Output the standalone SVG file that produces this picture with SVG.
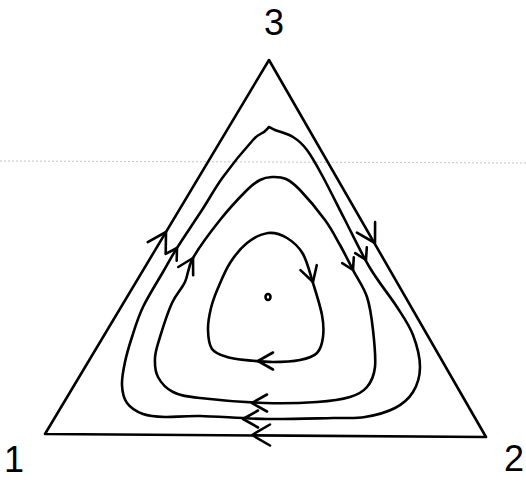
<svg xmlns="http://www.w3.org/2000/svg" xmlns:xlink="http://www.w3.org/1999/xlink" width="526" height="482" viewBox="0 0 526 482">
  <style>
    .ln { fill: none; stroke: #000; stroke-width: 2.6; stroke-linecap: round; stroke-linejoin: round; }
    .lbl { font-family: "Liberation Sans", "DejaVu Sans", sans-serif; font-size: 36px; fill: #000; text-anchor: middle; }
    .scan { stroke: #c4c4c4; stroke-width: 1; stroke-dasharray: 2 2; fill: none; }
  </style>
  <defs>
    <path id="ahBig" class="ln" d="M-18,-10.5 L0,0 L-18,10.5"/>
    <path id="ahMid" class="ln" d="M-15,-8.5 L0,0 L-15,8.5"/>
    <path id="ahSm" class="ln" d="M-11,-6.5 L0,0 L-11,6.5"/>
  </defs>
  <rect width="526" height="482" fill="#fff"/>
  <line class="scan" x1="0" y1="161" x2="526" y2="163"/>

  <g id="simplex">
    <path class="ln" d="M269,60 L486,437 L45,434 Z"/>
  </g>

  <g id="vertex-3"><text class="lbl" x="274" y="35">3</text></g>
  <g id="vertex-1"><text class="lbl" x="14" y="472">1</text></g>
  <g id="vertex-2"><text class="lbl" x="514" y="471">2</text></g>

  <g id="center"><ellipse class="ln" cx="268" cy="297" rx="2.5" ry="3" stroke-width="2.2"/></g>

  <g id="connectors">
    <path id="orbit-outer" class="ln" d="M269,127 C270,127.5 271,128.3 275,130 C279,131.7 287.7,133.7 293,137 C298.3,140.3 302,143.3 307,150 C312,156.7 316.7,165.3 323,177 C329.3,188.7 337.2,204.8 345,220 C352.8,235.2 361.3,253.5 370,268 C378.7,282.5 389.8,295.8 397,307 C404.2,318.2 409.2,325 413,335 C416.8,345 420,357.5 420,367 C420,376.5 417.2,385.2 413,392 C408.8,398.8 403,403.8 395,408 C387,412.2 375.3,415.3 365,417 C354.7,418.7 349.3,417.7 333,418 C316.7,418.3 289.2,419.3 267,419 C244.8,418.7 217,416.3 200,416 C183,415.7 174.5,417.3 165,417 C155.5,416.7 149.3,416.3 143,414 C136.7,411.7 130.5,407.8 127,403 C123.5,398.2 122.3,391.8 122,385 C121.7,378.2 123.3,370 125,362 C126.7,354 129,346.2 132,337 C135,327.8 137.8,317.8 143,307 C148.2,296.2 157.3,281.8 163,272 C168.7,262.2 170.5,258.3 177,248 C183.5,237.7 194.3,221.8 202,210 C209.7,198.2 214.5,188.7 223,177 C231.5,165.3 246.2,147.5 253,140 C259.8,132.5 261.3,134.2 264,132 C266.7,129.8 268.2,127.8 269,127 Z"/>
    <path id="orbit-middle" class="ln" d="M272,177 C276.3,176.8 281.3,176.8 286,179 C290.7,181.2 293.5,183.2 300,190 C306.5,196.8 318.3,210.8 325,220 C331.7,229.2 335.3,236.7 340,245 C344.7,253.3 348.5,261.3 353,270 C357.5,278.7 363.7,287 367,297 C370.3,307 371.7,318.3 373,330 C374.3,341.7 376,357.5 375,367 C374,376.5 371.2,382 367,387 C362.8,392 358.3,394.5 350,397 C341.7,399.5 331.2,401 317,402 C302.8,403 284.5,403.7 265,403 C245.5,402.3 215.3,399.8 200,398 C184.7,396.2 180,395.5 173,392 C166,388.5 161,382.7 158,377 C155,371.3 154.7,364.7 155,358 C155.3,351.3 157.2,346.2 160,337 C162.8,327.8 167.8,312.2 172,303 C176.2,293.8 181.5,289.5 185,282 C188.5,274.5 187.2,268.3 193,258 C198.8,247.7 211,231.3 220,220 C229,208.7 240.3,196.7 247,190 C253.7,183.3 255.8,182.2 260,180 C264.2,177.8 267.7,177.2 272,177 Z"/>
    <path id="orbit-inner" class="ln" d="M268,233 C274.7,232.2 281.2,234.5 287,238 C292.8,241.5 298.7,246.5 303,254 C307.3,261.5 309.8,272.8 313,283 C316.2,293.2 320.3,306 322,315 C323.7,324 323.8,330.7 323,337 C322.2,343.3 320.8,349.2 317,353 C313.2,356.8 307.3,358.5 300,360 C292.7,361.5 282.2,362 273,362 C263.8,362 252.7,360.8 245,360 C237.3,359.2 232.5,358.8 227,357 C221.5,355.2 215.2,353.5 212,349 C208.8,344.5 208.2,336.8 208,330 C207.8,323.2 209.3,315 211,308 C212.7,301 214.8,295.5 218,288 C221.2,280.5 225.2,270.5 230,263 C234.8,255.5 240.7,248 247,243 C253.3,238 261.3,233.8 268,233 Z"/>

    <!-- arrowheads -->
    <use xlink:href="#ahBig" transform="translate(166,232) rotate(-59)"/>
    <use xlink:href="#ahBig" transform="translate(375,243) rotate(60)"/>
    <use xlink:href="#ahBig" transform="translate(252,435) rotate(180)"/>

    <use xlink:href="#ahSm" transform="translate(177,248) rotate(-58)"/>
    <use xlink:href="#ahSm" transform="translate(366,260) rotate(63)"/>
    <use xlink:href="#ahMid" transform="translate(243,419) rotate(180)"/>

    <use xlink:href="#ahMid" transform="translate(193,258) rotate(-61)"/>
    <use xlink:href="#ahSm" transform="translate(353,270) rotate(63)"/>
    <use xlink:href="#ahMid" transform="translate(252,403) rotate(180)"/>

    <use xlink:href="#ahMid" transform="translate(313,282) rotate(73)"/>
    <use xlink:href="#ahMid" transform="translate(258,361) rotate(180)"/>
  </g>
</svg>
